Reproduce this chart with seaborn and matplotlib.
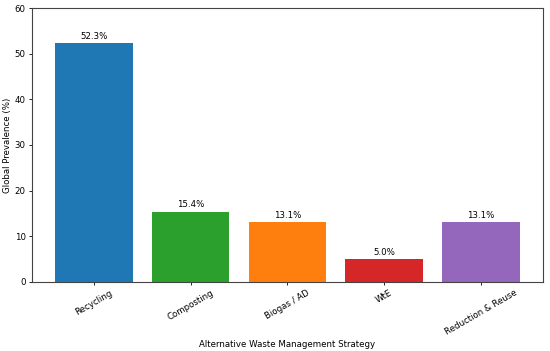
import seaborn as sns
import matplotlib.pyplot as plt
import pandas as pd

# values
strategies = ['Recycling', 'Composting', 'Biogas / AD', 'WtE', 'Reduction & Reuse']
prevalence = [52.3, 15.4, 13.1, 5.0, 13.1]
bar_colors = ['#1f77b4', '#2ca02c', '#ff7f0e', '#d62728', '#9467bd']

data = pd.DataFrame({'Strategy': strategies, 'Prevalence': prevalence})

sns.set_style('ticks')
plt.rcParams['font.family'] = ['DejaVu Sans']
plt.rcParams['text.color'] = 'black'
plt.rcParams['axes.labelcolor'] = 'black'
plt.rcParams['xtick.color'] = 'black'
plt.rcParams['ytick.color'] = 'black'

fs = 6.2

fig, ax = plt.subplots(figsize=(5.5, 3.51), dpi=100)
sns.barplot(data=data, x='Strategy', y='Prevalence', hue='Strategy',
            palette=bar_colors, legend=False, saturation=1, width=0.8,
            linewidth=0, edgecolor='none', ax=ax)

# percentage labels on top of each bar
for i, v in enumerate(prevalence):
    ax.text(i, v + 0.5, f'{v:.1f}%', ha='center', va='bottom', fontsize=fs)

ax.set_ylim(0, 60)
ax.set_xlim(-0.64, 4.64)
ax.set_xlabel('Alternative Waste Management Strategy', fontsize=fs, labelpad=2)
ax.set_ylabel('Global Prevalence (%)', fontsize=fs, labelpad=2)
ax.tick_params(axis='x', labelsize=fs, rotation=30, length=2.5, width=0.6, pad=2)
ax.tick_params(axis='y', labelsize=fs, length=2.5, width=0.6, pad=2)
for s in ax.spines.values():
    s.set_visible(True)
    s.set_color('#444444')
    s.set_linewidth(0.8)

fig.subplots_adjust(left=0.058, right=0.987, top=0.977, bottom=0.197)
plt.savefig('out.png', dpi=100)
